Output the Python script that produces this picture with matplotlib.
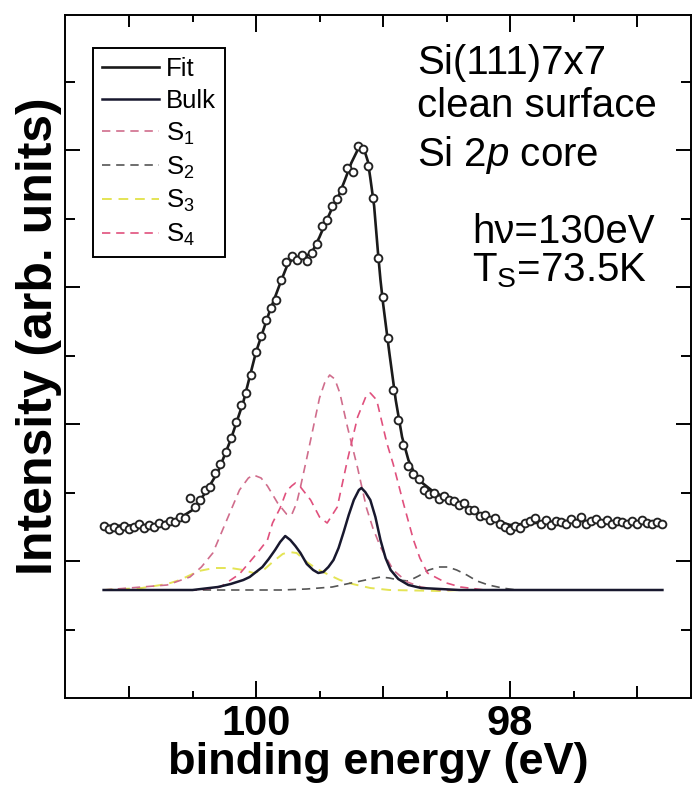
import matplotlib
matplotlib.use('Agg')
import matplotlib.pyplot as plt
from matplotlib import font_manager as fm
from matplotlib.ticker import FixedLocator

plt.rcParams['font.family'] = ['Liberation Sans', 'DejaVu Sans']
plt.rcParams['mathtext.fontset'] = 'custom'
plt.rcParams['mathtext.rm'] = 'Liberation Sans'
plt.rcParams['mathtext.it'] = 'Liberation Sans:italic'
plt.rcParams['mathtext.bf'] = 'Liberation Sans:bold'

# measured spectrum (binding energy in eV, intensity in arb. units)
meas_x = [101.20, 101.16, 101.12, 101.08, 101.04, 101.00, 100.96, 100.92, 100.88, 100.84,
          100.80, 100.76, 100.72, 100.68, 100.64, 100.60, 100.56, 100.52, 100.48, 100.44,
          100.40, 100.36, 100.32, 100.28, 100.24, 100.20, 100.16, 100.12, 100.08, 100.04,
          100.00, 99.96, 99.92, 99.88, 99.84, 99.80, 99.76, 99.72, 99.68, 99.64,
          99.60, 99.56, 99.52, 99.48, 99.44, 99.40, 99.36, 99.32, 99.28, 99.24,
          99.20, 99.16, 99.12, 99.08, 99.04, 99.00, 98.96, 98.92, 98.88, 98.84,
          98.80, 98.76, 98.72, 98.68, 98.64, 98.60, 98.56, 98.52, 98.48, 98.44,
          98.40, 98.36, 98.32, 98.28, 98.24, 98.20, 98.16, 98.12, 98.08, 98.04,
          98.00, 97.96, 97.92, 97.88, 97.84, 97.80, 97.76, 97.72, 97.68, 97.64,
          97.60, 97.56, 97.52, 97.48, 97.44, 97.40, 97.36, 97.32, 97.28, 97.24,
          97.20, 97.16, 97.12, 97.08, 97.04, 97.00, 96.96, 96.92, 96.88, 96.84,
          96.80]
meas_y = [172, 169, 171, 168, 172, 169, 171, 174, 170, 173,
          171, 175, 173, 177, 176, 181, 180, 200, 191, 198,
          208, 211, 225, 234, 246, 260, 276, 293, 305, 323,
          346, 362, 378, 390, 398, 418, 436, 442, 438, 443,
          437, 445, 454, 472, 478, 492, 499, 508, 530, 526,
          552, 549, 532, 500, 440, 401, 360, 308, 278, 253,
          232, 224, 219, 208, 204, 205, 199, 202, 198, 197,
          193, 195, 188, 188, 182, 183, 178, 180, 174, 171,
          168, 172, 170, 175, 177, 180, 174, 178, 173, 177,
          176, 174, 179, 175, 181, 174, 177, 179, 175, 178,
          174, 177, 176, 174, 177, 174, 178, 175, 174, 176,
          174]

# total fit
fit_x = [101.20, 100.80, 100.60, 100.50, 100.40, 100.30, 100.20, 100.10, 100.00, 99.95,
         99.90, 99.85, 99.80, 99.75, 99.70, 99.65, 99.60, 99.55, 99.50, 99.45,
         99.40, 99.35, 99.30, 99.25, 99.20, 99.17, 99.15, 99.12, 99.10, 99.07,
         99.04, 99.02, 99.00, 98.95, 98.90, 98.85, 98.80, 98.75, 98.70, 98.60,
         98.50, 98.40, 98.30, 98.20, 98.10, 98.00, 97.80, 97.60, 97.40, 97.20,
         97.00, 96.80]
fit_y = [172, 173, 180, 188, 205, 226, 258, 296, 346, 365,
         384, 401, 418, 434, 440, 442, 442, 448, 461, 476,
         490, 502, 518, 535, 548, 552, 549, 537, 520, 492,
         446, 418, 395, 345, 298, 261, 238, 224, 216, 206,
         200, 194, 188, 182, 177, 173, 175, 177, 177, 176,
         175, 174]

# bulk doublet
bulk_x = [101.20, 100.50, 100.30, 100.20, 100.10, 100.05, 100.00, 99.95, 99.90, 99.85,
          99.81, 99.77, 99.73, 99.69, 99.65, 99.60, 99.55, 99.51, 99.47, 99.43,
          99.39, 99.35, 99.31, 99.27, 99.23, 99.19, 99.17, 99.14, 99.10, 99.06,
          99.02, 98.98, 98.94, 98.88, 98.80, 98.70, 98.55, 98.40, 96.80]
bulk_y = [108, 108, 111, 114, 118, 121, 126, 131, 139, 148,
          156, 162, 158, 152, 145, 134, 128, 125, 126, 131,
          138, 150, 166, 183, 198, 208, 210, 206, 198, 181,
          158, 140, 128, 119, 113, 110, 109, 108, 108]

# surface components
s1_x = [101.20, 100.70, 100.52, 100.43, 100.34, 100.23, 100.13, 100.06, 100.02, 99.96,
        99.91, 99.83, 99.76, 99.72, 99.68, 99.65, 99.60, 99.57, 99.53, 99.50,
        99.46, 99.42, 99.38, 99.34, 99.28, 99.20, 99.13, 99.08, 99.02, 98.92,
        98.81, 98.70, 98.55, 96.80]
s1_y = [108, 113, 121, 131, 145, 178, 208, 220, 223, 220,
        212, 195, 184, 183, 195, 211, 240, 258, 282, 300,
        315, 323, 319, 305, 271, 230, 190, 170, 151, 128,
        116, 111, 108, 108]

s2_x = [101.20, 99.80, 99.60, 99.40, 99.25, 99.10, 99.02, 98.95, 98.88, 98.80,
        98.72, 98.64, 98.56, 98.49, 98.42, 98.34, 98.26, 98.17, 98.06, 97.95,
        96.80]
s2_y = [108, 108, 109, 111, 115, 119, 121, 120, 118, 117,
        122, 128, 131, 131, 128, 123, 117, 113, 110, 108,
        108]

s3_x = [101.20, 100.90, 100.70, 100.60, 100.45, 100.33, 100.20, 100.10, 100.02, 99.94,
        99.86, 99.79, 99.74, 99.68, 99.60, 99.52, 99.44, 99.34, 99.24, 99.10,
        98.95, 98.55, 98.40, 96.80]
s3_y = [108, 110, 114, 118, 127, 130, 130, 128, 125, 128,
        137, 144, 146, 145, 136, 129, 124, 118, 114, 110,
        108, 107, 108, 108]

s4_x = [101.20, 100.45, 100.28, 100.13, 99.99, 99.91, 99.87, 99.81, 99.76, 99.72,
        99.69, 99.65, 99.57, 99.50, 99.44, 99.36, 99.28, 99.20, 99.13, 99.10,
        99.05, 98.97, 98.92, 98.84, 98.76, 98.71, 98.65, 98.50, 98.39, 98.20,
        96.80]
s4_y = [108, 108, 111, 124, 145, 158, 175, 190, 207, 212,
        215, 211, 198, 181, 175, 191, 238, 281, 303, 305,
        298, 255, 234, 195, 158, 140, 125, 115, 111, 108,
        108]

x_major = [100, 98]
x_major_labels = ['100', '98']
x_minor = [101, 100.5, 99.5, 99, 98.5, 97.5, 97]

fig = plt.figure(figsize=(6.92, 8.01), dpi=100)
ax = fig.add_axes([65/692, 1 - 698/801, 626/692, 683/801])

dash = (5, 3.5)
ax.plot(s3_x, s3_y, color='#e4e455', lw=1.4, dashes=dash, label='S$_3$', zorder=2)
ax.plot(s2_x, s2_y, color='#555555', lw=1.2, dashes=dash, label='S$_2$', zorder=2)
ax.plot(s1_x, s1_y, color='#d06d8c', lw=1.2, dashes=dash, label='S$_1$', zorder=2)
ax.plot(s4_x, s4_y, color='#e0507d', lw=1.2, dashes=dash, label='S$_4$', zorder=2)
ax.plot(bulk_x, bulk_y, color='#18182e', lw=1.8, label='Bulk', zorder=3)
ax.plot(fit_x, fit_y, color='#1a1a1a', lw=1.9, label='Fit', zorder=4)
ax.plot(meas_x, meas_y, 'o', ms=5.6, mfc='white', mec='#222222', mew=1.35, zorder=5)

ax.set_xlim(101.504, 96.575)
ax.set_ylim(0, 683)

tick_fp = fm.FontProperties(family='Liberation Sans', weight='bold', size=30)
ax.set_xticks(x_major, labels=x_major_labels, fontproperties=tick_fp)
ax.xaxis.set_minor_locator(FixedLocator(x_minor))
ax.yaxis.set_major_locator(FixedLocator([137, 274, 411, 548]))
ax.yaxis.set_minor_locator(FixedLocator([68.5, 205.5, 342.5, 479.5, 616.5]))

ax.tick_params(axis='both', which='both', direction='in', top=True, right=True, width=1.4)
ax.tick_params(axis='y', which='major', length=11, labelleft=False)
ax.tick_params(axis='y', which='minor', length=7)
ax.tick_params(axis='x', which='major', length=12, pad=4)
ax.tick_params(axis='x', which='minor', length=5)
for t, loc in zip(ax.xaxis.get_minor_ticks(len(x_minor)), x_minor):
    if loc == int(loc):
        t.tick1line.set_markersize(8.5)
        t.tick2line.set_markersize(8.5)

for s in ax.spines.values():
    s.set_linewidth(1.4)

ax.set_xlabel('binding energy (eV)', fontsize=32.5, fontweight='bold', labelpad=-1)
ax.set_ylabel('Intensity (arb. units)', fontsize=36, fontweight='bold')
ax.yaxis.set_label_coords(-0.005, 0.53)

handles, labels = ax.get_legend_handles_labels()
order = ['Fit', 'Bulk', 'S$_1$', 'S$_2$', 'S$_3$', 'S$_4$']
hmap = dict(zip(labels, handles))
leg = ax.legend([hmap[k] for k in order], order, loc='upper left',
                bbox_to_anchor=(28/626, 650/683), fontsize=18.5, frameon=True,
                fancybox=False, edgecolor='black', framealpha=1, borderpad=0.35,
                labelspacing=0.3, handlelength=2.2, handletextpad=0.3, borderaxespad=0)
leg.get_frame().set_linewidth(1.4)

fs = 29
tx = ax.transAxes
ax.text(0.562, 0.913, 'Si(111)7x7', fontsize=fs, transform=tx, va='baseline')
ax.text(0.562, 0.850, 'clean surface', fontsize=fs, transform=tx, va='baseline')
ax.text(0.562, 0.779, 'Si 2$\\mathit{p}$ core', fontsize=fs, transform=tx, va='baseline')
ax.text(0.650, 0.666, 'h\u03bd=130eV', fontsize=fs, transform=tx, va='baseline')
ax.text(0.650, 0.610, 'T$_\\mathrm{S}$=73.5K', fontsize=fs, transform=tx, va='baseline')

fig.savefig('out.png', dpi=100)
